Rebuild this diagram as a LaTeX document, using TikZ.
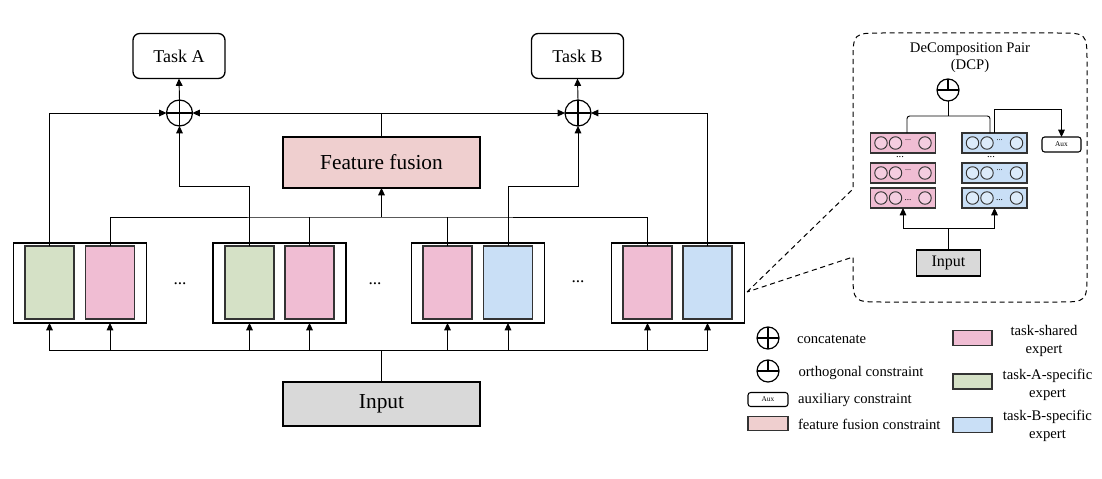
\documentclass[tikz,border=0pt]{standalone}
\usepackage{fontspec}
\setmainfont{Liberation Serif}
\usetikzlibrary{arrows.meta}
\definecolor{cgreen}{HTML}{D5E1C6}
\definecolor{cpink}{HTML}{F0BDD3}
\definecolor{cblue}{HTML}{C9DFF6}
\definecolor{cfuse}{HTML}{EFCFCF}
\definecolor{cgray}{HTML}{D9D9D9}
\definecolor{cpinkc}{HTML}{F4CDE0}
\definecolor{cbluec}{HTML}{DCEBFA}
\definecolor{edgec}{HTML}{333333}
\begin{document}
\begin{tikzpicture}[x=0.75pt,y=-0.75pt,
  sz/.style 2 args={minimum width=#1*0.75pt, minimum height=#2*0.75pt},
  every node/.style={inner sep=0pt, outer sep=0pt},
  arr/.style={-{Triangle[length=5.5pt,width=5pt]}},
  ln/.style={line width=0.7pt},
  task/.style={draw, line width=1pt, rounded corners=5pt, sz={92}{45}, font=\fontsize{13.5}{15}\selectfont},
  sym/.style={draw, circle, line width=0.9pt, minimum size=#1*0.75pt},
  bigbox/.style={draw, line width=0.8pt, font=\fontsize{16}{19}\selectfont},
  grp/.style={draw, line width=0.8pt, sz={133}{80}},
  expbox/.style={draw=edgec, line width=0.9pt, sz={49}{73}, fill=#1},
  layer/.style={draw=edgec, line width=0.9pt, sz={65}{20}, fill=#1},
  cell/.style={draw=edgec, circle, line width=0.7pt, minimum size=12.5*0.75pt, fill=#1},
  dcp/.style={line width=0.75pt, dash pattern=on 3.8pt off 2.8pt},
  lfont/.style={font=\fontsize{11}{13}\selectfont},
  legbox/.style={draw=edgec, line width=0.9pt, sz={39}{15}, fill=#1}
]
\useasboundingbox (0,0) rectangle (1102,478);

% ---------- main diagram ----------
\node[task] (taskA) at (179,56) {Task A};
\node[task] (taskB) at (577.5,56) {Task B};
\node[sym=26] (catA) at (179.5,113) {};
\node[sym=26] (catB) at (578,113) {};
\draw[line width=0.9pt] (catA.north)--(catA.south) (catA.west)--(catA.east);
\draw[line width=0.9pt] (catB.north)--(catB.south) (catB.west)--(catB.east);

\node[bigbox, fill=cfuse, sz={197}{51}] (fusion) at (381.5,162.5) {Feature fusion};
\node[bigbox, fill=cgray, sz={197}{44}] (input) at (381.5,404) {Input};

\node[grp] (g1) at (80,283) {};
\node[grp] (g2) at (279.5,283) {};
\node[grp] (g3) at (478,283) {};
\node[grp] (g4) at (678,283) {};

\node[expbox=cgreen] (e1a) at (49.5,282.5) {};
\node[expbox=cpink]  (e1b) at (110,282.5) {};
\node[expbox=cgreen] (e2a) at (249.5,282.5) {};
\node[expbox=cpink]  (e2b) at (309.5,282.5) {};
\node[expbox=cpink]  (e3a) at (447.5,282.5) {};
\node[expbox=cblue]  (e3b) at (508,282.5) {};
\node[expbox=cpink]  (e4a) at (647.5,282.5) {};
\node[expbox=cblue]  (e4b) at (707.5,282.5) {};

\node[font=\fontsize{13}{15}\selectfont] (dots1) at (180,284) {...};
\node[font=\fontsize{13}{15}\selectfont] (dots2) at (375,284) {...};
\node[font=\fontsize{13}{15}\selectfont] (dots3) at (578,282) {...};

\draw[ln,arr] (catA.north) -- (taskA.south);
\draw[ln,arr] (catB.north) -- (taskB.south);
\draw[ln,arr] (e1a.north) |- (catA.west);
\draw[ln,arr] (fusion.north) |- (catA.east);
\draw[ln,arr] (fusion.north) |- (catB.west);
\draw[ln,arr] (e4b.north) |- (catB.east);
\coordinate (jA) at (179.5,186);
\coordinate (jB) at (578,186);
\draw[ln,arr] (e2a.north) |- (jA) -- (catA.south);
\draw[ln,arr] (e3b.north) |- (jB) -- (catB.south);
\coordinate (jF) at (381.5,217);
\draw[ln] (e1b.north) |- (jF) -| (e4a.north);
\draw[ln] (e2b.north) -- (e2b.north |- jF);
\draw[ln] (e3a.north) -- (e3a.north |- jF);
\draw[ln,arr] (jF) -- (fusion.south);
\coordinate (jI) at (381.5,350);
\draw[ln] (input.north) -- (jI);
\draw[ln,arr] (jI) -| (e1a.south |- g1.south);
\draw[ln,arr] (jI) -| (e1b.south |- g1.south);
\draw[ln,arr] (jI) -| (e2a.south |- g2.south);
\draw[ln,arr] (jI) -| (e2b.south |- g2.south);
\draw[ln,arr] (jI) -| (e3a.south |- g3.south);
\draw[ln,arr] (jI) -| (e3b.south |- g3.south);
\draw[ln,arr] (jI) -| (e4a.south |- g4.south);
\draw[ln,arr] (jI) -| (e4b.south |- g4.south);

% ---------- DCP callout ----------
\coordinate (apex) at (747,292);
\draw[dcp] (apex) -- (853,189) -- (853,63) .. controls (853,33) .. (883,33) -- (1057,33)
  .. controls (1087,33) .. (1087,63) -- (1087,272) .. controls (1087,302) .. (1057,302)
  -- (883,302) .. controls (853,302) .. (853,272) -- (853,257) -- cycle;

\node[lfont, align=center] (dcptitle) at (970,58) {DeComposition Pair\\(DCP)};
\node[sym=22] (orth) at (948,90) {};
\draw[line width=0.9pt] (orth.north)--(orth.center) (orth.west)--(orth.east);

\node[layer=cpink] (p1) at (903,143) {};
\node[layer=cpink] (p2) at (903,173) {};
\node[layer=cpink] (p3) at (903,198) {};
\node[layer=cblue] (b1) at (994.5,143) {};
\node[layer=cblue] (b2) at (994.5,173) {};
\node[layer=cblue] (b3) at (994.5,198) {};
\foreach \L/\c in {p1/cpinkc,p2/cpinkc,p3/cpinkc,b1/cbluec,b2/cbluec,b3/cbluec}{
  \foreach \dx [count=\i] in {-22,-7.5,22}{
    \node[cell=\c] (\L-c\i) at ([xshift=\dx*0.75pt]\L.center) {};
  }
}
\foreach \L in {p1,p2,b1,b2}{
  \node[font=\fontsize{6}{7}\selectfont] (\L-d) at ([xshift=5*0.75pt,yshift=2.5pt]\L.center) {...};
}
\foreach \L in {p3,b3}{
  \node[font=\fontsize{7}{8}\selectfont] (\L-d) at ([xshift=5*0.75pt,yshift=-1.5pt]\L.center) {...};
}
\node[font=\fontsize{8}{9}\selectfont] (pd) at (900,157) {...};
\node[font=\fontsize{8}{9}\selectfont] (bd) at (991,157) {...};

\coordinate (bl) at (907,133);
\coordinate (br) at (990,133);
\coordinate (bm) at (948,116);
\draw[ln, rounded corners=2pt] (bl) |- (bm) -| (br);
\draw[ln] (orth.south) -- (bm);

\node[draw, line width=0.8pt, rounded corners=2pt, sz={39}{15}, font=\fontsize{5.5}{6}\selectfont] (aux) at (1061.5,144.5) {Aux};
\draw[ln,arr] (b1.north) -- ++(0,-24) -| (aux.north);

\node[draw, line width=0.8pt, fill=cgray, sz={64}{26}, font=\fontsize{12}{14}\selectfont] (dinput) at (948.5,263) {Input};
\coordinate (dj) at (948.5,228);
\draw[ln] (dinput.north) -- (dj);
\draw[ln,arr] (dj) -| (p3.south);
\draw[ln,arr] (dj) -| (b3.south);

% ---------- legend ----------
\node[sym=22] (lcat) at (768,338) {};
\draw[line width=0.9pt] (lcat.north)--(lcat.south) (lcat.west)--(lcat.east);
\node[sym=22] (lorth) at (768,371) {};
\draw[line width=0.9pt] (lorth.north)--(lorth.center) (lorth.west)--(lorth.east);
\node[draw, line width=0.8pt, rounded corners=2pt, sz={40}{14}, font=\fontsize{5.5}{6}\selectfont] (laux) at (768,399.5) {Aux};
\node[legbox=cfuse, sz={40}{14}] (lff) at (768,423.5) {};

\node[lfont, anchor=base west] (tcat) at (797,343) {concatenate};
\node[lfont, anchor=base west] (torth) at (798.5,376) {orthogonal constraint};
\node[lfont, anchor=base west] (taux) at (798,403) {auxiliary constraint};
\node[lfont, anchor=base west] (tff) at (798,429) {feature fusion constraint};

\node[legbox=cpink] (lsh) at (972.5,338) {};
\node[legbox=cgreen] (lA) at (972.5,381.5) {};
\node[legbox=cblue] (lB) at (972.5,425) {};
\node[lfont, align=center] (tsh) at (1044,341) {task-shared\\expert};
\node[lfont, align=center] (tA) at (1047.5,385) {task-A-specific\\expert};
\node[lfont, align=center] (tB) at (1047.5,426) {task-B-specific\\expert};
\end{tikzpicture}
\end{document}
